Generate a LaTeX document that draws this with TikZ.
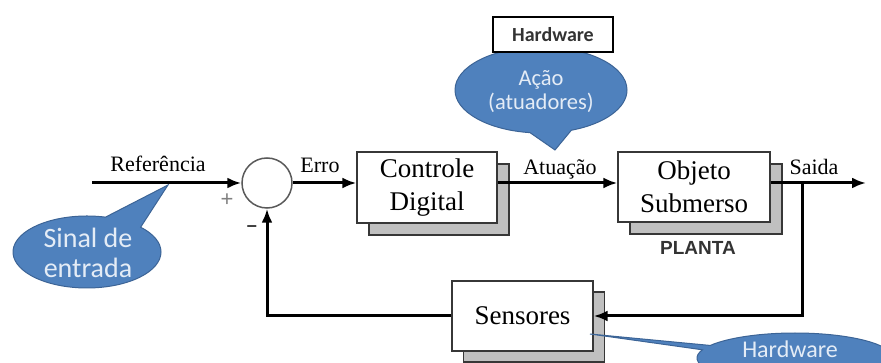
\documentclass[tikz,border=0pt]{standalone}
\usepackage{fontspec}
\setmainfont{Liberation Serif}
\newfontfamily\calibfont{Carlito}
\newfontfamily\arialfont{Liberation Sans}
\usetikzlibrary{shapes.callouts,shapes.geometric,arrows.meta}
\definecolor{bubblefill}{RGB}{79,129,189}
\definecolor{bubbleedge}{RGB}{60,100,150}
\definecolor{bubbletext}{RGB}{228,236,246}
\definecolor{boxedge}{RGB}{55,55,55}
\definecolor{shadowfill}{RGB}{192,192,192}
\begin{document}
\begin{tikzpicture}[x=1pt,y=-1pt,
  blockbox/.style={draw=boxedge,line width=1.3pt,fill=white,inner sep=0pt},
  shadowbox/.style={draw=boxedge,line width=1.3pt,fill=shadowfill,inner sep=0pt},
  sig/.style={line width=3pt,-{Latex[length=14pt,width=11pt]}},
  lbl/.style={font=\fontsize{22}{26}\selectfont,anchor=base},
  blocktext/.style={font=\fontsize{27}{33}\selectfont,align=center},
  bubble/.style={ellipse callout,fill=bubblefill,draw=bubbleedge,line width=1pt,inner sep=0pt},
  bubbletxt/.style={text=bubbletext,align=center,inner sep=0pt}
]
\useasboundingbox (0,0) rectangle (881,363);
\clip (0,0) rectangle (881,363);

% callout bubbles (behind)
\node[bubble, minimum width=148pt, minimum height=72pt,
      callout absolute pointer={(168,185)}, callout pointer arc=32] (sinalb) at (87,252) {};
\node[bubbletxt, font=\calibfont\fontsize{28}{30}\selectfont] (sinalt) at (88,253) {Sinal de\\entrada};

\node[bubble, minimum width=172pt, minimum height=86pt,
      callout absolute pointer={(555,150)}, callout pointer arc=28] (acaob) at (541,90) {};
\node[bubbletxt, font=\calibfont\fontsize{22.5}{24}\selectfont] (acaot) at (541,92) {Ação\\(atuadores)};

\node[draw=black, line width=2.5pt, fill=white, minimum width=120pt, minimum height=35pt,
      inner sep=0pt, text=black!80, font=\calibfont\bfseries\fontsize{20}{24}\selectfont] (hwtop) at (553,34.5) {Hardware};

% shadows
\node[shadowbox, minimum width=140pt, minimum height=71pt] (ctrlsh) at (439,199.5) {};
\node[shadowbox, minimum width=152pt, minimum height=70pt] (plantsh) at (706,199) {};
\node[shadowbox, minimum width=141pt, minimum height=70pt] (senssh) at (534,327) {};

% summing junction
\node[circle, draw=black!65, line width=1.5pt, minimum size=50pt, inner sep=0pt, fill=white] (sum) at (267,183) {};

% signal lines
\coordinate (in) at (92,183);
\coordinate (out) at (866,183);
\coordinate (tap) at (802,183);

% main blocks
\node[blockbox, minimum width=140pt, minimum height=71pt, blocktext] (ctrl) at (427,187.5) {Controle\\Digital};
\node[blockbox, minimum width=152pt, minimum height=70pt, blocktext] (plant) at (694,187) {Objeto\\Submerso};

\draw[sig] (in) -- (sum.west);
\draw[sig] (sum.east) -- (sum.east -| ctrl.west);
\draw[sig] (sum.east -| ctrl.east) -- (sum.east -| plant.west);
\draw[sig] (sum.east -| plant.east) -- (out);

\node[blockbox, minimum width=141pt, minimum height=70pt, blocktext] (sens) at (522.5,316) {Sensores};
\draw[sig] (tap) |- (sens.east);
\draw[sig] (sens.west) -| (sum.south);

% lower hardware bubble
\node[bubble, minimum width=196pt, minimum height=50pt,
      callout absolute pointer={(590,334)}, callout pointer arc=11] (hwb) at (795,358) {};
\node[bubbletxt, font=\calibfont\fontsize{24}{28}\selectfont, anchor=base] (hwt) at (790,358) {Hardware};

% labels
\node[lbl] (refl) at (158,172) {Referência};
\node[lbl] (errol) at (320,173) {Erro};
\node[lbl] (atual) at (560,175) {Atuação};
\node[lbl] (saidal) at (814,175) {Saida};
\node[font=\arialfont\bfseries\fontsize{19}{22}\selectfont, text=black!80, anchor=base] (planta) at (698,255) {PLANTA};
\node[font=\arialfont\fontsize{22}{24}\selectfont, text=black!50] (plus) at (227,200) {+};
\node[font=\arialfont\bfseries\fontsize{18}{20}\selectfont, text=black!75] (minus) at (252,229) {−};
\end{tikzpicture}
\end{document}
